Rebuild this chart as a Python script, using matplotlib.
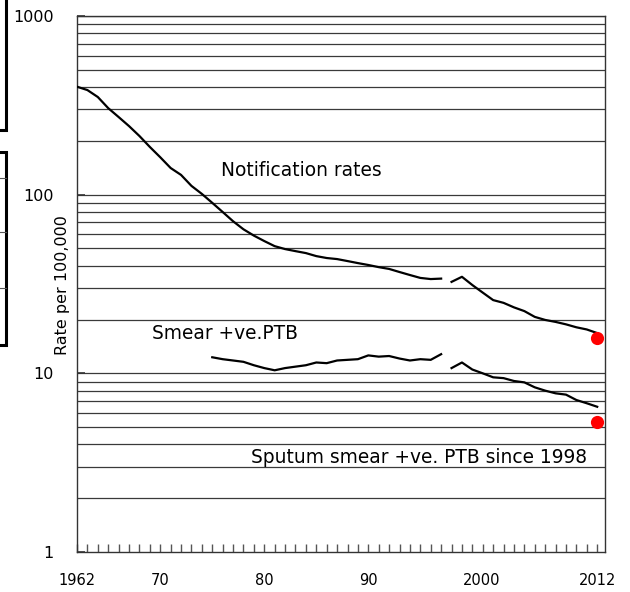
import matplotlib
matplotlib.use("Agg")
import matplotlib.pyplot as plt
import numpy as np
from matplotlib.patches import Rectangle
from matplotlib.lines import Line2D

plt.rcParams['font.family'] = ['DejaVu Sans']

# Notification rates, 1962-1997
notif_years_a = list(range(1962, 1998))
notif_a = [402, 385, 352, 305, 272, 242, 213, 185, 162, 141, 129, 112, 101, 90, 80, 71,
           64, 59, 55, 51.5, 49.6, 48.3, 47.1, 45.3, 44.2, 43.6, 42.5, 41.4, 40.4, 39.3,
           38.4, 36.9, 35.5, 34.2, 33.7, 33.9]
# Notification rates, 1998-2012
notif_years_b = list(range(1998, 2013))
notif_b = [32.5, 34.7, 31.2, 28.3, 25.7, 24.8, 23.4, 22.3, 20.7, 19.9, 19.4, 18.8, 18.1, 17.6, 16.8]

# Smear +ve PTB, 1975-1997
smear_years = list(range(1975, 1998))
smear = [12.3, 12.0, 11.8, 11.6, 11.1, 10.7, 10.4, 10.7, 10.9, 11.1, 11.5, 11.4, 11.8,
         11.9, 12.0, 12.6, 12.4, 12.5, 12.1, 11.8, 12.0, 11.9, 12.8]
# Sputum smear +ve PTB since 1998
sputum_years = list(range(1998, 2013))
sputum = [10.7, 11.5, 10.5, 10.0, 9.5, 9.4, 9.06, 8.9, 8.35, 8.0, 7.73, 7.6, 7.09, 6.8, 6.5]

# Highlighted points (red)
red_years = [2012, 2012]
red_values = [15.7, 5.34]

xtick_pos = [1962, 1970, 1980, 1990, 2000.9, 2012]
xtick_labels = ['1962', '70', '80', '90', '2000', '2012']
ytick_vals = [1, 10, 100, 1000]
ytick_labels = ['1', '10', '100', '1000']

W, H = 630, 592
fig = plt.figure(figsize=(W / 100, H / 100), dpi=100)
ax = fig.add_axes([77 / W, 1 - 552 / H, (605 - 77) / W, (552 - 16) / H])

ax.set_yscale('log')
ax.set_ylim(1, 1000)
ax.set_xlim(1962, 2012.75)

# horizontal gridlines at every minor/major decade step
for dec in [1, 10, 100]:
    for m in range(2, 11):
        ax.axhline(dec * m, color='#3a3a3a', lw=0.9, zorder=1)

lc = 'black'
ax.plot(notif_years_a, notif_a, color=lc, lw=1.6, zorder=3)
ax.plot(notif_years_b, notif_b, color=lc, lw=1.6, zorder=3)
ax.plot(smear_years, smear, color=lc, lw=1.6, zorder=3)
ax.plot(sputum_years, sputum, color=lc, lw=1.6, zorder=3)
ax.plot(red_years, red_values, 'o', color='#ff0000', ms=9.5, mec='none', zorder=4)

ax.text(1975.85, 137, 'Notification rates', fontsize=13.4, va='center', ha='left')
ax.text(1969.2, 16.8, 'Smear +ve.PTB', fontsize=13.4, va='center', ha='left')
ax.text(1978.7, 3.36, 'Sputum smear +ve. PTB since 1998', fontsize=13.4, va='center', ha='left')

for s in ax.spines.values():
    s.set_color('#333333')
    s.set_linewidth(1.0)

ax.set_yticks(ytick_vals)
ax.set_yticklabels(ytick_labels)
ax.yaxis.set_minor_locator(matplotlib.ticker.NullLocator())
ax.tick_params(axis='y', which='major', direction='in', length=6, width=1.2,
               pad=17, labelsize=11.5, color='#333333')

ax.xaxis.remove_overlapping_locs = False
ax.set_xticks(xtick_pos)
ax.set_xticklabels(xtick_labels)
ax.set_xticks(list(range(1962, 2013)), minor=True)
ax.tick_params(axis='x', which='major', length=0, pad=15, labelsize=10.5)
ax.tick_params(axis='x', which='minor', direction='in', length=6, width=1.0, color='#555555')

fig.text(62 / W, 1 - 285 / H, 'Rate per 100,000', rotation=90, fontsize=11.5,
         ha='center', va='center')

# partial boxes cut off at the left edge
fig.patches.append(Rectangle((-20 / W, 1 - 130 / H), 26 / W, 140 / H, transform=fig.transFigure,
                             fill=False, ec='black', lw=2.2))
fig.patches.append(Rectangle((-20 / W, 1 - 345 / H), 26 / W, (345 - 152) / H, transform=fig.transFigure,
                             fill=False, ec='black', lw=2.2))
for yy in [178, 232, 288]:
    fig.lines.append(Line2D([0, 6 / W], [1 - yy / H, 1 - yy / H], transform=fig.transFigure,
                            color='#555555', lw=0.8))

fig.savefig('out.png', dpi=100)
